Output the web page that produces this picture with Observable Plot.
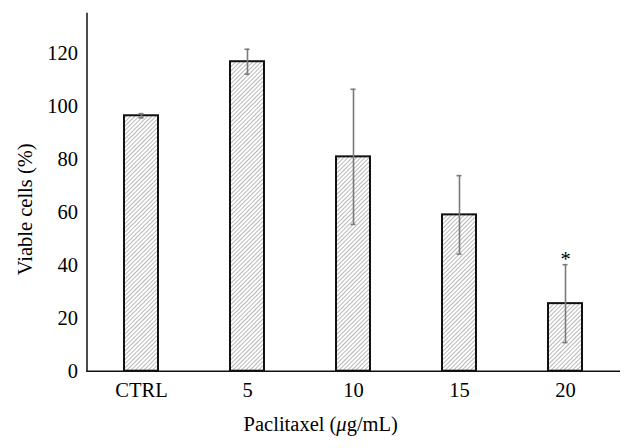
<!DOCTYPE html>
<html>
<head>
<meta charset="utf-8">
<script src="https://cdn.jsdelivr.net/npm/d3@7"></script>
<script src="https://cdn.jsdelivr.net/npm/@observablehq/plot@0.6"></script>
<style>
  html, body { margin: 0; padding: 0; background: white; }
</style>
</head>
<body>
<div id="chart"></div>
<script>
const categories = ["CTRL", "5", "10", "15", "20"];
const means = [96.4, 116.8, 80.9, 59.0, 25.5];
const errors = [0.8, 4.7, 25.5, 14.8, 14.7];
const significance = ["", "", "", "", "*"];
const yTicks = [0, 20, 40, 60, 80, 100, 120];
const xTitle = "Paclitaxel (μg/mL)";
const yTitle = "Viable cells (%)";

const data = categories.map((c, i) => ({c, m: means[i], e: errors[i], s: significance[i]}));
const errColor = "#7a7a7a";
const fs = 20.5;

const chart = Plot.plot({
  width: 634,
  height: 448,
  marginLeft: 86.5,
  marginRight: 14,
  marginTop: 13,
  marginBottom: 77.3,
  x: {domain: categories, paddingInner: 0.68, paddingOuter: 0.34, label: null},
  y: {domain: [0, 135], label: null},
  style: {fontFamily: "'Liberation Serif', 'DejaVu Serif', serif", fontSize: fs + "px", color: "black", background: "white"},
  marks: [
    Plot.barY(data, {x: "c", y: "m", fill: "white", stroke: "#111", strokeWidth: 2}),
    Plot.ruleX(data, {x: "c", y1: d => d.m - d.e, y2: d => d.m + d.e, stroke: errColor, strokeWidth: 1.6}),
    Plot.tickY(data, {x: "c", y: d => d.m + d.e, insetLeft: 14.5, insetRight: 14.5, stroke: errColor, strokeWidth: 1.6}),
    Plot.tickY(data, {x: "c", y: d => d.m - d.e, insetLeft: 14.5, insetRight: 14.5, stroke: errColor, strokeWidth: 1.6}),
    Plot.text(data.filter(d => d.s), {x: "c", y: d => d.m + d.e, text: "s", dy: -5, fontSize: fs}),
    Plot.ruleY([0], {stroke: "#111", strokeWidth: 1.5}),
    Plot.frame({anchor: "left", stroke: "#111", strokeWidth: 1.5}),
    Plot.axisY({ticks: yTicks, tickSize: 0, tickPadding: 9, fontSize: fs, label: null}),
    Plot.axisX({tickSize: 0, tickPadding: 11, fontSize: fs, label: null}),
    Plot.text([yTitle], {frameAnchor: "left", textAnchor: "middle", rotate: -90, dx: -62, dy: 17, fontSize: fs}),
    Plot.text([xTitle], {frameAnchor: "bottom", textAnchor: "middle", dy: 60, dx: -33, fontSize: fs})
  ]
});

// hatch pattern
const defs = document.createElementNS("http://www.w3.org/2000/svg", "defs");
defs.innerHTML = `<pattern id="hatch" patternUnits="userSpaceOnUse" width="3" height="3" patternTransform="rotate(45)">
  <rect width="3" height="3" fill="white"></rect>
  <line x1="0.5" y1="0" x2="0.5" y2="3" stroke="#9a9a9a" stroke-width="0.7"></line>
</pattern>`;
chart.insertBefore(defs, chart.firstChild);
chart.querySelectorAll('g[aria-label="bar"]').forEach(g => {
  g.setAttribute("fill", "url(#hatch)");
  g.querySelectorAll("rect").forEach(r => r.setAttribute("fill", "url(#hatch)"));
});
// italic mu
chart.querySelectorAll("text").forEach(t => {
  if (t.textContent === xTitle) {
    t.textContent = "";
    const parts = [["Paclitaxel (", false], ["μ", true], ["g/mL)", false]];
    for (const [s, it] of parts) {
      const ts = document.createElementNS("http://www.w3.org/2000/svg", "tspan");
      ts.textContent = s;
      if (it) ts.setAttribute("font-style", "italic");
      t.appendChild(ts);
    }
  }
});
document.getElementById("chart").appendChild(chart);
</script>
</body>
</html>
